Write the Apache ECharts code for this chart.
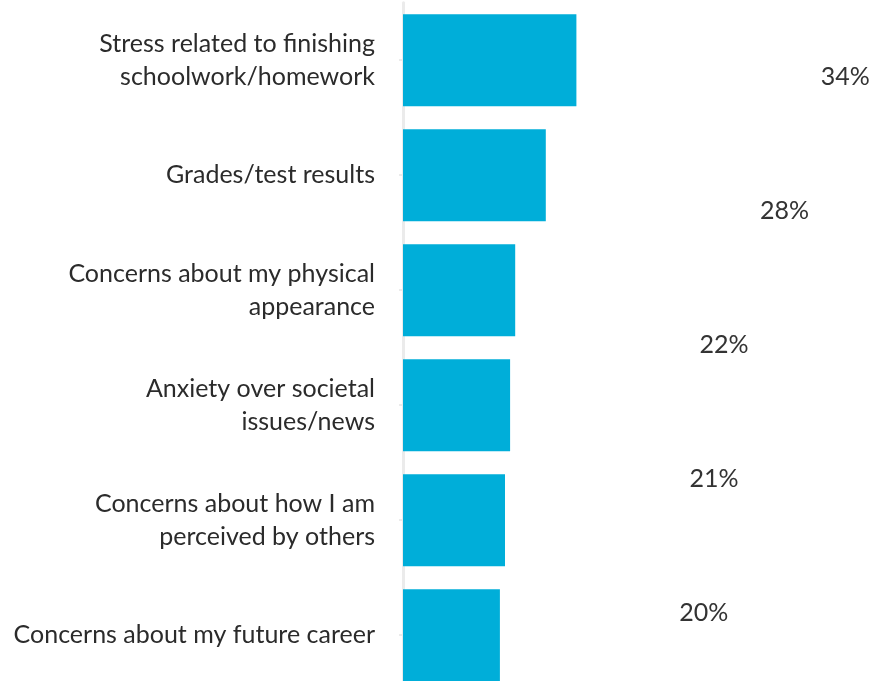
<!DOCTYPE html>
<html>
<head>
<meta charset="utf-8">
<script src="https://cdn.jsdelivr.net/npm/echarts@6/dist/echarts.min.js"></script>
<style>
  html, body { margin: 0; padding: 0; background: #ffffff; }
  #frame { width: 871px; height: 681px; overflow: hidden; position: relative; }
  #chart { width: 871px; height: 830px; }
</style>
</head>
<body>
<div id="frame"><div id="chart"></div></div>
<script>
// Sources of stress (share of respondents, %)
const categories = [
  'Stress related to finishing\nschoolwork/homework',
  'Grades/test results',
  'Concerns about my physical\nappearance',
  'Anxiety over societal\nissues/news',
  'Concerns about how I am\nperceived by others',
  'Concerns about my future career'
];
const values = [34, 28, 22, 21, 20, 19];

const FONT = 'Lato, "Source Sans Pro", "Noto Sans", sans-serif';
const chart = echarts.init(document.getElementById('chart'), null, { renderer: 'canvas' });

chart.setOption({
  animation: false,
  backgroundColor: '#ffffff',
  grid: [
    // bars: 5.1 px per percentage point, 115 px per category band
    { left: 403, top: 2.65, width: 459, height: 690, containLabel: false },
    // value labels sit on their own, wider-spaced grid
    { left: 477.3, top: 10, width: 383.8, height: 804, containLabel: false }
  ],
  xAxis: [
    { type: 'value', gridIndex: 0, min: 0, max: 90, show: false },
    { type: 'value', gridIndex: 1, min: 0, max: 38, show: false }
  ],
  yAxis: [
    {
      type: 'category', gridIndex: 0, inverse: true, data: categories,
      axisLine: { show: true, lineStyle: { color: '#ebebeb', width: 3 } },
      axisTick: { show: true, alignWithLabel: true, length: 4, lineStyle: { color: '#ebebeb', width: 2 } },
      axisLabel: {
        margin: 28, color: '#2b2b2b', fontSize: 25, lineHeight: 33,
        fontFamily: FONT, align: 'right'
      },
      splitLine: { show: false }
    },
    { type: 'category', gridIndex: 1, inverse: true, data: categories, show: false }
  ],
  series: [
    {
      type: 'bar', xAxisIndex: 0, yAxisIndex: 0, data: values,
      barCategoryGap: '20%',
      itemStyle: { color: '#00aed9' },
      silent: true
    },
    {
      type: 'bar', xAxisIndex: 1, yAxisIndex: 1, data: values,
      barCategoryGap: '20%',
      itemStyle: { color: 'rgba(0,0,0,0)' },
      silent: true,
      label: {
        show: true, position: 'right', distance: 0,
        formatter: p => p.value + '%',
        color: '#333333', fontSize: 25, fontFamily: FONT
      }
    }
  ]
});
</script>
</body>
</html>
